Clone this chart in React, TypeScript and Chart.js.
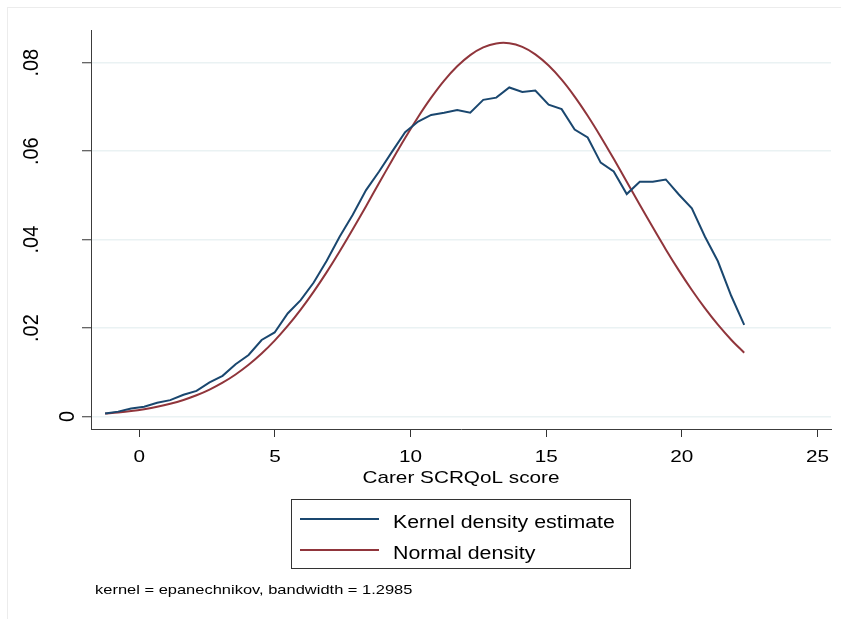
import { useEffect, useRef } from "react";
import { Chart, registerables } from "chart.js";

Chart.register(...registerables);

// ---- data ----
const xGrid = [
  -1.26, -0.78, -0.3, 0.18, 0.66, 1.14, 1.63, 2.11, 2.59, 3.07,
  3.55, 4.03, 4.51, 4.99, 5.47, 5.95, 6.43, 6.91, 7.39, 7.87,
  8.36, 8.84, 9.32, 9.8, 10.28, 10.76, 11.24, 11.72, 12.2, 12.68,
  13.16, 13.64, 14.12, 14.6, 15.09, 15.57, 16.05, 16.53, 17.01, 17.49,
  17.97, 18.45, 18.93, 19.41, 19.89, 20.37, 20.85, 21.33, 21.82, 22.3,
];

const kernelDensity = [
  0.0007, 0.0011, 0.0018, 0.0022, 0.0031, 0.0037, 0.0049, 0.0058, 0.0077, 0.0092,
  0.0118, 0.0139, 0.0173, 0.019, 0.0233, 0.0263, 0.0303, 0.0352, 0.0407, 0.0456,
  0.0512, 0.0554, 0.0599, 0.0643, 0.0667, 0.0682, 0.0687, 0.0693, 0.0687, 0.0716,
  0.0721, 0.0744, 0.0734, 0.0737, 0.0705, 0.0695, 0.0649, 0.0631, 0.0574, 0.0554,
  0.0503, 0.0531, 0.0531, 0.0536, 0.0502, 0.0471, 0.0407, 0.0351, 0.0273, 0.0207,
];

const normalDensity = [
  0.00067, 0.00092, 0.00124, 0.00166, 0.00219, 0.00287, 0.00374, 0.00479, 0.00608, 0.00764,
  0.0095, 0.01169, 0.01424, 0.01716, 0.02047, 0.02417, 0.02824, 0.03265, 0.03737, 0.04234,
  0.04757, 0.05278, 0.05796, 0.06298, 0.06774, 0.0721, 0.07596, 0.07919, 0.08173, 0.08347,
  0.08437, 0.08441, 0.08358, 0.0819, 0.07937, 0.07618, 0.07235, 0.06801, 0.06328, 0.05827,
  0.05311, 0.0479, 0.04277, 0.03778, 0.03304, 0.0286, 0.0245, 0.02076, 0.01736, 0.01441,
];

const xTickValues = [0, 5, 10, 15, 20, 25];
const xTickLabels = ["0", "5", "10", "15", "20", "25"];
const yTickValues = [0, 0.02, 0.04, 0.06, 0.08];
const yTickLabels = ["0", ".02", ".04", ".06", ".08"];
const xAxisTitle = "Carer SCRQoL score";
const seriesNames = ["Kernel density estimate", "Normal density"];
const noteText = "kernel = epanechnikov, bandwidth = 1.2985";
const seriesColors = ["#1a476f", "#90353b"];

// ---- styling ----
const FONT = "'Liberation Sans', Arial, Helvetica, sans-serif";
const SX = 1.22; // reference text is horizontally stretched

function fillStretched(ctx: CanvasRenderingContext2D, text: string, x: number, y: number, align: "left" | "center" | "right") {
  const w = ctx.measureText(text).width * SX;
  let left = x;
  if (align === "center") left = x - w / 2;
  if (align === "right") left = x - w;
  ctx.save();
  ctx.translate(left, y);
  ctx.scale(SX, 1);
  ctx.textAlign = "left";
  ctx.fillText(text, 0, 0);
  ctx.restore();
}

const textPlugin = {
  id: "stataText",
  beforeDraw(chart: any) {
    const ctx: CanvasRenderingContext2D = chart.ctx;
    ctx.save();
    ctx.fillStyle = "#ffffff";
    ctx.fillRect(0, 0, chart.width, chart.height);
    ctx.strokeStyle = "#ececec";
    ctx.lineWidth = 1;
    ctx.strokeRect(7.5, 7.5, chart.width + 10, chart.height + 10);
    ctx.restore();
  },
  afterDraw(chart: any) {
    const ctx: CanvasRenderingContext2D = chart.ctx;
    const xs = chart.scales.x;
    const ys = chart.scales.y;
    const area = chart.chartArea;
    ctx.save();
    ctx.fillStyle = "#000000";
    ctx.textBaseline = "alphabetic";

    // x tick labels
    ctx.font = `17px ${FONT}`;
    xTickValues.forEach((v, i) => {
      fillStretched(ctx, xTickLabels[i], xs.getPixelForValue(v), 462, "center");
    });

    // y tick labels (rotated, reading upwards)
    ctx.font = `20px ${FONT}`;
    const w0 = ctx.measureText("0").width;
    yTickValues.forEach((v, i) => {
      const lab = yTickLabels[i];
      const w = ctx.measureText(lab).width;
      const baseX = 74 - (w - w0) * 2.16;
      ctx.save();
      ctx.translate(baseX, ys.getPixelForValue(v));
      ctx.scale(1.1, 1);
      ctx.rotate(-Math.PI / 2);
      ctx.textAlign = "center";
      ctx.fillText(lab, 0, 0);
      ctx.restore();
    });

    // x axis title
    ctx.font = `17px ${FONT}`;
    fillStretched(ctx, xAxisTitle, (area.left + area.right) / 2, 482.5, "center");

    // legend box
    const bx = 291.5, by = 499.5, bw = 339, bh = 69;
    ctx.strokeStyle = "#333333";
    ctx.lineWidth = 1;
    ctx.strokeRect(bx, by, bw, bh);
    const rows = [519, 550];
    ctx.font = `17.5px ${FONT}`;
    seriesNames.forEach((name, i) => {
      ctx.strokeStyle = seriesColors[i];
      ctx.lineWidth = 2;
      ctx.beginPath();
      ctx.moveTo(300, rows[i]);
      ctx.lineTo(379, rows[i]);
      ctx.stroke();
      fillStretched(ctx, name, 393, rows[i] + 8.5, "left");
    });

    // note
    ctx.font = `13.5px ${FONT}`;
    fillStretched(ctx, noteText, 95, 594, "left");
    ctx.restore();
  },
};

export default function App() {
  const canvasRef = useRef<HTMLCanvasElement | null>(null);

  useEffect(() => {
    if (!canvasRef.current) return;
    const chart = new Chart(canvasRef.current, {
      type: "line",
      data: {
        datasets: [
          {
            label: seriesNames[0],
            data: xGrid.map((x, i) => ({ x, y: kernelDensity[i] })),
            borderColor: seriesColors[0],
            borderWidth: 2,
            pointRadius: 0,
            fill: false,
            tension: 0,
          },
          {
            label: seriesNames[1],
            data: xGrid.map((x, i) => ({ x, y: normalDensity[i] })),
            borderColor: seriesColors[1],
            borderWidth: 2,
            pointRadius: 0,
            fill: false,
            tension: 0.35,
          },
        ],
      },
      options: {
        responsive: false,
        animation: false,
        devicePixelRatio: 1,
        layout: { padding: { left: 41, top: 30, right: 10, bottom: 150 } },
        plugins: { legend: { display: false }, tooltip: { enabled: false } },
        scales: {
          x: {
            type: "linear",
            min: -1.78,
            max: 25.5,
            afterBuildTicks: (s: any) => {
              s.ticks = xTickValues.map((v) => ({ value: v }));
            },
            afterFit: (s: any) => {
              s.height = 40;
            },
            ticks: { display: false },
            grid: {
              drawOnChartArea: false,
              drawTicks: true,
              tickLength: 8,
              tickColor: "#333333",
              tickWidth: 1,
            },
            border: { display: true, color: "#3c3c3c", width: 1 },
          },
          y: {
            type: "linear",
            min: -0.00283,
            max: 0.0874,
            afterBuildTicks: (s: any) => {
              s.ticks = yTickValues.map((v) => ({ value: v }));
            },
            afterFit: (s: any) => {
              s.width = 50;
            },
            ticks: { display: false },
            grid: {
              color: "#eaf2f3",
              lineWidth: 1.5,
              drawTicks: true,
              tickLength: 9,
              tickColor: "#333333",
              tickWidth: 1,
            },
            border: { display: true, color: "#3c3c3c", width: 1 },
          },
        },
      },
      plugins: [textPlugin],
    } as any);
    return () => chart.destroy();
  }, []);

  return (
    <div style={{ position: "absolute", left: 0, top: 0, width: 841, height: 619, background: "#ffffff" }}>
      <canvas ref={canvasRef} width={841} height={619} style={{ display: "block" }} />
    </div>
  );
}
